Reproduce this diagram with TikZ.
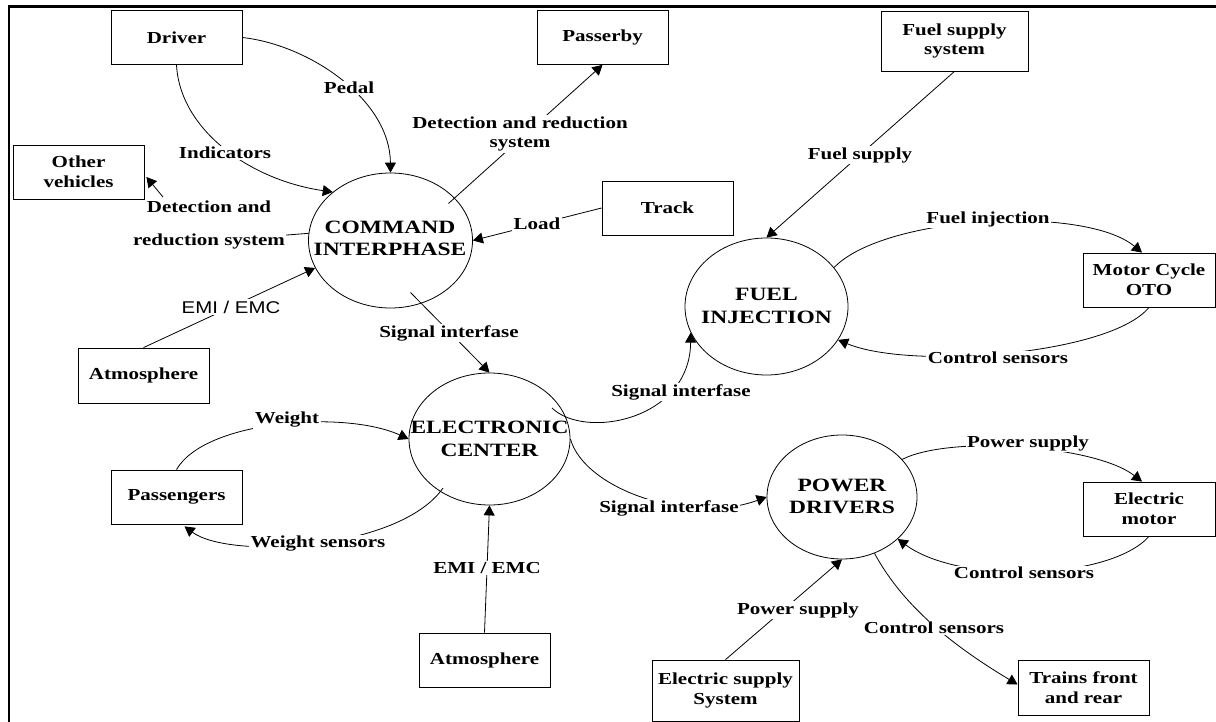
\documentclass[tikz,border=0pt]{standalone}
\usepackage{fontspec}
\setmainfont{Liberation Serif}[FakeStretch=1.25]
\newfontfamily\emisans{Liberation Sans}[FakeStretch=1.2]
\usetikzlibrary{arrows.meta,backgrounds,shapes.geometric}

\newcommand{\dgBoxFont}{\fontsize{16.8}{19.5}\selectfont\bfseries}
\newcommand{\dgEllFont}{\fontsize{18.8}{22.5}\selectfont\bfseries}
\newcommand{\dgSansFont}{\emisans\fontsize{17}{20}\selectfont}

\begin{document}
\begin{tikzpicture}[x=1pt,y=-1pt,
  box/.style={draw, line width=0.8pt, minimum width=131pt, minimum height=54pt,
              inner sep=0pt, align=center, font=\dgBoxFont},
  ell/.style={draw, ellipse, line width=0.8pt, inner sep=0pt},
  ellText/.style={align=center, inner sep=0pt, font=\dgEllFont},
  lab/.style={fill=white, inner sep=1.5pt, align=center, font=\dgBoxFont},
  arr/.style={line width=0.8pt, -{Triangle[length=10pt,width=11pt]}},
  conn/.style={line width=0.8pt}]

\useasboundingbox (0,0) rectangle (1216,722);

% frame edges
\draw[line width=2.2pt] (8.7,722) -- (8.7,6.5) -- (1216,6.5);

% external entities
\node[box] (driver) at (176.5,37.5) {Driver};
\node[box] (passerby) at (602.5,37.5) {Passerby};
\node[box, minimum width=147pt, minimum height=60pt] (fss) at (954.5,41) {Fuel supply\\system};
\node[box] (other) at (78.5,172) {Other\\vehicles};
\node[box] (track) at (667.5,208) {Track};
\node[box, minimum height=55pt] (atm1) at (143.5,375.5) {Atmosphere};
\node[box] (pass) at (176.5,497) {Passengers};
\node[box] (atm2) at (484.5,660) {Atmosphere};
\node[box, minimum width=147pt, minimum height=61pt] (ess) at (725.5,690.5) {Electric supply\\System};
\node[box, minimum width=132pt] (moto) at (1149,280) {Motor Cycle\\OTO};
\node[box, minimum width=132pt] (emotor) at (1149,509) {Electric\\motor};
\node[box, minimum height=55pt] (trains) at (1083.5,687.5) {Trains front\\and rear};

% processes
\node[ell, minimum width=164pt, minimum height=135pt] (cmd) at (390.5,240.5) {};
\node[ellText] (cmdT) at (390,238.5) {COMMAND\\INTERPHASE};
\node[ell, minimum width=161pt, minimum height=132pt] (elec) at (489.5,439) {};
\node[ellText] (elecT) at (489.5,439) {ELECTRONIC\\CENTER};
\node[ell, minimum width=163pt, minimum height=137pt] (fuel) at (766.5,306.5) {};
\node[ellText] (fuelT) at (766.5,306) {FUEL\\INJECTION};
\node[ell, minimum width=150pt, minimum height=124pt] (pwr) at (842,497) {};
\node[ellText] (pwrT) at (842,496.5) {POWER\\DRIVERS};

% flow labels
\node[lab] (lPedal) at (349,88) {Pedal};
\node[lab] (lInd) at (225,153) {Indicators};
\node[lab] (lDet1) at (209,207) {Detection and};
\node[lab] (lDet2) at (209,241) {reduction system};
\node[lab] (lDetP) at (520,134) {Detection and reduction\\system};
\node[lab] (lLoad) at (537,224) {Load};
\node[lab, font=\dgSansFont] (lEmi1) at (231,307) {EMI / EMC};
\node[lab] (lSig1) at (449,333) {Signal interfase};
\node[lab] (lSig2) at (681,392) {Signal interfase};
\node[lab] (lSig3) at (669,508) {Signal interfase};
\node[lab] (lWeight) at (287,420) {Weight};
\node[lab] (lWS) at (318,544) {Weight sensors};
\node[lab] (lEmi2) at (487,568) {EMI / EMC};
\node[lab] (lFS) at (860,155) {Fuel supply};
\node[lab] (lFI) at (988,219) {Fuel injection};
\node[lab] (lCS1) at (998,358) {Control sensors};
\node[lab] (lPS1) at (1028,443) {Power supply};
\node[lab] (lCS2) at (1024,573) {Control sensors};
\node[lab] (lCS3) at (934,628) {Control sensors};
\node[lab] (lPS2) at (798,610) {Power supply};

% flows, drawn beneath the labels
\begin{pgfonlayer}{background}
\draw[arr] (driver.east) .. controls (310,45) and (390,100) .. (cmd.north);
\draw[arr] (driver.south) .. controls (180,130) and (250,180) .. (cmd.140);
\draw[conn] (cmd.175) -- (lDet2.center);
\draw[arr] ([shift={(-46,-10)}]lDet1.center) -- ([shift={(2,5)}]other.east);
\draw[arr] ([shift={(58,-37)}]cmd.center) -- (passerby.south);
\draw[arr] (track.west) -- (cmd.east);
\draw[arr] (atm1.north) -- (cmd.200);
\draw[arr] ([shift={(20,52)}]cmd.center) -- (elec.north);
\draw[arr] ([shift={(62.5,-31)}]elec.center) .. controls (585,440) and (690,420) .. (fuel.199);
\draw[arr] (elec.east) .. controls (585,490) and (690,525) .. (pwr.west);
\draw[arr] (pass.north) .. controls (205,420) and (345,410) .. (elec.west);
\draw[arr] ([shift={(-46.5,49)}]elec.center) .. controls (400,550) and (230,560) .. ([shift={(8,2)}]pass.south);
\draw[arr] (atm2.north) -- (elec.south);
\draw[arr] (fss.south) -- (fuel.north);
\draw[arr] (fuel.30) .. controls (885,215) and (1085,205) .. ([shift={(-7,0)}]moto.north);
\draw[arr] (moto.south) .. controls (1110,355) and (910,370) .. (fuel.335);
\draw[arr] (pwr.32) .. controls (950,435) and (1095,445) .. ([shift={(-7,0)}]emotor.north);
\draw[arr] (emotor.south) .. controls (1110,580) and (960,585) .. (pwr.323);
\draw[arr] (pwr.300) .. controls (905,610) and (960,650) .. ([shift={(0,-3)}]trains.west);
\draw[arr] (ess.north) -- (pwr.south);
\end{pgfonlayer}
\end{tikzpicture}
\end{document}
